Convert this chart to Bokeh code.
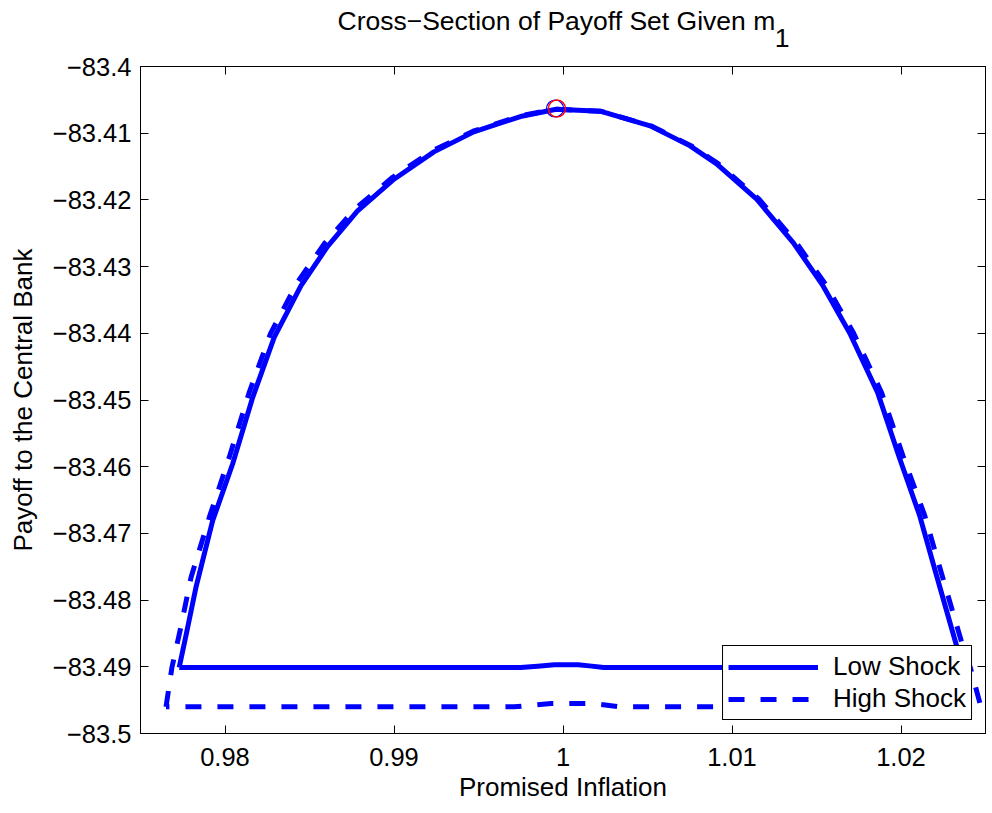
from bokeh.plotting import figure
from bokeh.models import (Range1d, FixedTicker, LinearAxis, Legend, LegendItem,
                          ColumnDataSource)
from bokeh.embed import file_html
from bokeh.resources import INLINE

# ---------------- data ----------------
low_x = [0.97729, 0.97775, 0.97828, 0.97927, 0.98045, 0.98164, 0.98291, 0.98449,
         0.98606, 0.98783, 0.99000, 0.99236, 0.99472, 0.99748, 0.99960, 1.00220,
         1.00516, 1.00752, 1.00909, 1.01146, 1.01362, 1.01539, 1.01697, 1.01862,
         1.01987, 1.02110, 1.02209, 1.02325, 1.02367,
         1.00240, 1.00170, 1.00090, 0.99950, 0.99850, 0.99750, 0.97729]
low_y = [-83.4901, -83.4846, -83.4781, -83.4681, -83.4596, -83.4496, -83.4406, -83.4329,
         -83.4270, -83.4217, -83.4169, -83.4128, -83.4098, -83.4075, -83.4064, -83.4067,
         -83.4089, -83.4119, -83.4146, -83.4199, -83.4264, -83.4329, -83.4400, -83.4489,
         -83.4584, -83.4673, -83.4762, -83.4865, -83.4901,
         -83.4901, -83.4899, -83.4897, -83.4897, -83.4899, -83.4901, -83.4901]

high_x = [0.97651, 0.97686, 0.97734, 0.97799, 0.97907, 0.98025, 0.98144, 0.98270,
          0.98430, 0.98590, 0.98772, 0.98992, 0.99230, 0.99468, 0.99746, 0.99955,
          1.00222, 1.00520, 1.00760, 1.00920, 1.01160, 1.01380, 1.01560, 1.01720,
          1.01885, 1.02012, 1.02140, 1.02242, 1.02361, 1.02410, 1.02473,
          1.00340, 1.00170, 0.99930, 0.99710, 0.97651]
high_y = [-83.4960, -83.4901, -83.4846, -83.4766, -83.4676, -83.4586, -83.4488, -83.4400,
          -83.4323, -83.4265, -83.4213, -83.4166, -83.4126, -83.4097, -83.4074, -83.4064,
          -83.4067, -83.4089, -83.4119, -83.4146, -83.4199, -83.4264, -83.4329, -83.4400,
          -83.4489, -83.4584, -83.4673, -83.4762, -83.4865, -83.4901, -83.4960,
          -83.4960, -83.4955, -83.4955, -83.4960, -83.4960]

peak_blue_x = [0.99953]
peak_blue_y = [-83.4063]
peak_red_x = [0.99964]
peak_red_y = [-83.4063]

x_ticks = [0.98, 0.99, 1.0, 1.01, 1.02]
x_tick_labels = ["0.98", "0.99", "1", "1.01", "1.02"]
y_ticks = [-83.5, -83.49, -83.48, -83.47, -83.46, -83.45, -83.44, -83.43, -83.42, -83.41, -83.4]
y_tick_labels = ["\u221283.5", "\u221283.49", "\u221283.48", "\u221283.47", "\u221283.46",
                 "\u221283.45", "\u221283.44", "\u221283.43", "\u221283.42", "\u221283.41",
                 "\u221283.4"]

title_main = "Cross\u2212Section of Payoff Set Given m"
title_sub = "1"
x_label = "Promised Inflation"
y_label = "Payoff to the Central Bank"
series_names = ["Low Shock", "High Shock"]

FONT = "Liberation Sans"
BLUE = "#0000ff"
SUB_POS = 1.01296   # horizontal anchor of the title's subscript (layout only)

# ---------------- figure ----------------
p = figure(width=988, height=805, output_backend="svg", toolbar_location=None,
           x_range=Range1d(0.975, 1.025), y_range=Range1d(-83.5, -83.4),
           min_border_left=140, min_border_top=66, min_border_right=3,
           min_border_bottom=72, background_fill_color="white",
           border_fill_color="white")
p.xgrid.visible = False
p.ygrid.visible = False
p.outline_line_color = "black"
p.outline_line_width = 1
p.outline_line_alpha = 1

# main axes
xa = p.xaxis[0]
ya = p.yaxis[0]
xa.ticker = FixedTicker(ticks=x_ticks)
ya.ticker = FixedTicker(ticks=y_ticks)
xa.major_label_overrides = {t: l for t, l in zip(x_ticks, x_tick_labels)}
ya.major_label_overrides = {t: l for t, l in zip(y_ticks, y_tick_labels)}
for ax in (xa, ya):
    ax.major_tick_in = 8
    ax.major_tick_out = 0
    ax.minor_tick_line_color = None
    ax.major_tick_line_color = "black"
    ax.axis_line_color = "black"
    ax.major_label_text_font = FONT
    ax.major_label_text_font_size = "25.5px"
    ax.major_label_text_color = "black"
    ax.axis_label_text_font = FONT
    ax.axis_label_text_font_size = "26px"
    ax.axis_label_text_font_style = "normal"
    ax.axis_label_text_color = "black"
xa.axis_label = x_label
ya.axis_label = y_label
xa.major_label_standoff = 14
ya.major_label_standoff = 9
xa.axis_label_standoff = 3
ya.axis_label_standoff = 12

# mirrored tick axes (top, right)
for loc, ticks in (("above", x_ticks), ("right", y_ticks)):
    ax = LinearAxis(ticker=FixedTicker(ticks=ticks),
                    major_label_overrides={t: "" for t in ticks})
    ax.major_tick_in = 8
    ax.major_tick_out = 0
    ax.minor_tick_line_color = None
    ax.major_tick_line_color = "black"
    ax.axis_line_color = "black"
    ax.major_label_standoff = 0
    ax.major_label_text_font_size = "0px"
    p.add_layout(ax, loc)

# subscript of the title, as a tick label of an invisible top axis
sub_ax = LinearAxis(ticker=FixedTicker(ticks=[SUB_POS]),
                    major_label_overrides={SUB_POS: title_sub})
sub_ax.major_tick_line_color = None
sub_ax.minor_tick_line_color = None
sub_ax.axis_line_color = None
sub_ax.major_tick_in = 0
sub_ax.major_tick_out = 0
sub_ax.major_label_standoff = 20
sub_ax.major_label_text_font = FONT
sub_ax.major_label_text_font_size = "26.5px"
sub_ax.major_label_text_color = "black"
p.add_layout(sub_ax, "above")

# main title
p.title.text = title_main
p.title.align = "left"
p.title.offset = 197
p.title.standoff = -20
p.title.text_font = FONT
p.title.text_font_size = "26.5px"
p.title.text_font_style = "normal"
p.title.text_color = "black"

# lines
src_low = ColumnDataSource(dict(x=low_x, y=low_y))
src_high = ColumnDataSource(dict(x=high_x, y=high_y))
r_low = p.line("x", "y", source=src_low, line_color=BLUE, line_width=5,
               line_join="round")
r_high = p.line("x", "y", source=src_high, line_color=BLUE, line_width=5,
                line_dash="16 16", line_join="round")

# peak markers
p.scatter(peak_blue_x, peak_blue_y, marker="circle", size=17, fill_alpha=0,
          line_color=BLUE, line_width=1.2)
p.scatter(peak_red_x, peak_red_y, marker="circle", size=17, fill_alpha=0,
          line_color="red", line_width=1.5)

# legend
legend = Legend(items=[LegendItem(label=series_names[0], renderers=[r_low]),
                       LegendItem(label=series_names[1], renderers=[r_high])],
                location="bottom_right", margin=13, padding=5, spacing=1,
                glyph_width=90, glyph_height=24, label_height=24,
                label_standoff=15, label_text_font=FONT,
                label_text_font_size="26px", label_text_color="black",
                border_line_color="black", border_line_width=1,
                border_line_alpha=1, background_fill_color="white",
                background_fill_alpha=1)
p.add_layout(legend)

open("out.html", "w").write(file_html(p, INLINE))
